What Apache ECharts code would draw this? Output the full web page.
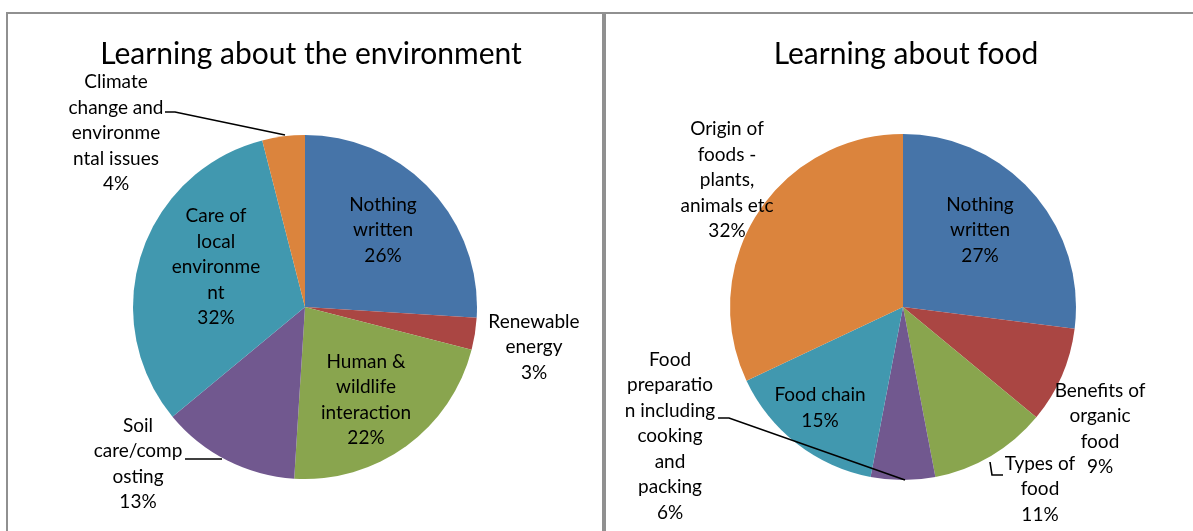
<!DOCTYPE html>
<html>
<head>
<meta charset="utf-8">
<script src="https://cdn.jsdelivr.net/npm/echarts@6/dist/echarts.min.js"></script>
<style>
  html, body { margin: 0; padding: 0; background: #fff; }
  #chart { width: 1193px; height: 531px; }
</style>
</head>
<body>
<div id="chart"></div>
<script>
// labels keep the wrapping used in the original chart
const envCategories = [
  'Nothing\nwritten',
  'Renewable\nenergy',
  'Human &\nwildlife\ninteraction',
  'Soil\ncare/comp\nosting',
  'Care of\nlocal\nenvironme\nnt',
  'Climate\nchange and\nenvironme\nntal issues',
]
const envValues = [26, 3, 22, 13, 32, 4]

const foodCategories = [
  'Nothing\nwritten',
  'Benefits of\norganic\nfood',
  'Types of\nfood',
  'Food\npreparatio\nn including\ncooking\nand\npacking',
  'Food chain',
  'Origin of\nfoods -\nplants,\nanimals etc',
]
const foodValues = [27, 9, 11, 6, 15, 32]

const sliceColors = ['#4674a8', '#aa4643', '#89a54e', '#71588f', '#4198af', '#db843d']
const FONT = 'Lato, "Liberation Sans", sans-serif'

const pies = [
  { center: [305, 307], radius: 172 },
  { center: [903, 307], radius: 173 },
]

// label block centres, relative to the pie centre
const labelSpots = [
  [[78, -77], [229, 40], [61, 93], [-167, 157], [-89, -40], [-189, -174]],
  [[77, -77], [197, 122], [137, 182], [-233, 129], [-83, 101], [-176, -127]],
]
// leader lines (slice end first), relative to the pie centre
const leaders = [
  { 3: [[-83, 152], [-100, 152], [-120, 152]], 5: [[-20, -172], [-130, -195], [-140, -195]] },
  { 2: [[87, 155], [89, 168], [100, 168]], 3: [[2, 173], [-174, 111], [-185, 111]] },
]

// on the food pie the preparation leader crosses the food chain slice,
// so that label goes on a transparent copy drawn on top
const overlayIdx = 3

function buildData(names, values, lineIdx, hideIdx) {
  return names.map((name, i) => ({
    name,
    value: values[i],
    itemStyle: { color: sliceColors[i] },
    label: { show: i !== hideIdx },
    labelLine: { show: lineIdx.includes(i) && i !== hideIdx },
  }))
}

function makeLayout(s) {
  return (params) => {
    const [cx, cy] = pies[s].center
    const [dx, dy] = labelSpots[s][params.dataIndex]
    const res = { x: cx + dx, y: cy + dy, align: 'center', verticalAlign: 'middle' }
    const pts = leaders[s][params.dataIndex]
    if (pts) res.labelLinePoints = pts.map(([px, py]) => [cx + px, cy + py])
    return res
  }
}

const labelStyle = {
  position: 'outside',
  formatter: '{b}\n{c}%',
  fontFamily: FONT, fontSize: 19, lineHeight: 25.5, color: '#000',
}
const lineStyle = { color: '#000', width: 1.6 }

function pieSeries(s, names, values, lineIdx, hideIdx) {
  return {
    type: 'pie',
    center: pies[s].center,
    radius: pies[s].radius,
    startAngle: 90,
    clockwise: true,
    avoidLabelOverlap: false,
    label: labelStyle,
    labelLine: { lineStyle },
    labelLayout: makeLayout(s),
    data: buildData(names, values, lineIdx, hideIdx),
  }
}

const overlay = {
  type: 'pie',
  z: 5,
  silent: true,
  center: pies[1].center,
  radius: pies[1].radius,
  startAngle: 90,
  clockwise: true,
  avoidLabelOverlap: false,
  itemStyle: { color: 'rgba(0,0,0,0)' },
  label: labelStyle,
  labelLine: { lineStyle },
  labelLayout: makeLayout(1),
  data: foodCategories.map((name, i) => ({
    name,
    value: foodValues[i],
    label: { show: i === overlayIdx },
    labelLine: { show: i === overlayIdx },
  })),
}

const chart = echarts.init(document.getElementById('chart'))

chart.setOption({
  animation: false,
  title: [
    {
      text: 'Learning about the environment',
      left: 306, top: 34, textAlign: 'center',
      textStyle: { fontFamily: FONT, fontSize: 30, fontWeight: 'normal', color: '#000' },
    },
    {
      text: 'Learning about food',
      left: 901, top: 34, textAlign: 'center',
      textStyle: { fontFamily: FONT, fontSize: 30, fontWeight: 'normal', color: '#000' },
    },
  ],
  graphic: [
    { type: 'rect', shape: { x: 7, y: 13, width: 596, height: 600 }, style: { fill: 'none', stroke: '#909090', lineWidth: 2 } },
    { type: 'rect', shape: { x: 605, y: 13, width: 700, height: 600 }, style: { fill: 'none', stroke: '#909090', lineWidth: 2 } },
  ],
  series: [
    pieSeries(0, envCategories, envValues, [3, 5], -1),
    pieSeries(1, foodCategories, foodValues, [2, 3], overlayIdx),
    overlay,
  ],
})
</script>
</body>
</html>
